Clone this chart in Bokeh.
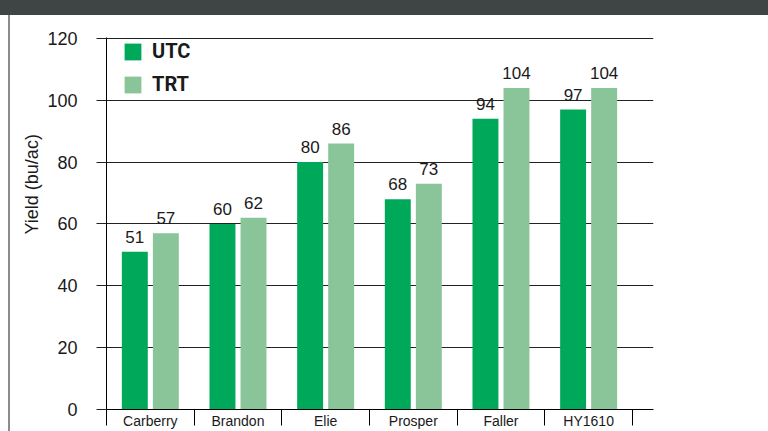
import numpy as np
from bokeh.plotting import figure
from bokeh.models import (Range1d, FixedTicker, Div, Title, Legend, LegendItem,
                          ColumnDataSource)
from bokeh.layouts import column, row
from bokeh.embed import file_html
from bokeh.resources import INLINE
from bokeh.core.properties import value

# ---- data ----
sites = ["Carberry", "Brandon", "Elie", "Prosper", "Faller", "HY1610"]
utc = [51, 60, 80, 68, 94, 97]
trt = [57, 62, 86, 73, 104, 104]
y_ticks = [0, 20, 40, 60, 80, 100, 120]
series_names = ["UTC", "TRT"]

# ---- style ----
UTC_COLOR = "#00a85a"
TRT_COLOR = "#8ac599"
TXT = "#1a1a1a"
FONT = "Liberation Sans"
BOLD = "Roboto"

centers = np.arange(len(sites)) + 0.5
off = 0.177
bw = 0.296

W, H = 758, 416
p = figure(width=W, height=H, output_backend="svg", toolbar_location=None,
           x_range=Range1d(0, 6.24), y_range=Range1d(0, 120.3),
           min_border_left=96, min_border_right=115, min_border_top=22,
           min_border_bottom=22)
p.outline_line_color = None
p.background_fill_color = "white"
p.border_fill_color = "white"
p.xgrid.visible = False

yt = FixedTicker(ticks=y_ticks, minor_ticks=[])
p.yaxis.ticker = yt
p.ygrid.ticker = yt
p.ygrid.grid_line_color = "#222222"
p.ygrid.grid_line_width = 1
p.yaxis.axis_line_color = "black"
p.yaxis.major_tick_out = 10
p.yaxis.major_tick_in = 0
p.yaxis.minor_tick_line_color = None
p.yaxis.major_tick_line_color = "#222222"
p.yaxis.major_label_standoff = 19
p.yaxis.major_label_text_font = FONT
p.yaxis.major_label_text_font_size = "18px"
p.yaxis.major_label_text_color = TXT

xt = FixedTicker(ticks=list(centers), minor_ticks=list(range(len(sites) + 1)))
p.xaxis.ticker = xt
p.xaxis.major_label_overrides = {float(c): s for c, s in zip(centers, sites)}
p.xaxis.axis_line_color = "black"
p.xaxis.major_tick_out = 0
p.xaxis.major_tick_in = 0
p.xaxis.minor_tick_out = 16
p.xaxis.minor_tick_in = 0
p.xaxis.minor_tick_line_color = "black"
p.xaxis.major_label_standoff = -13
p.xaxis.major_label_text_font = FONT
p.xaxis.major_label_text_font_size = "14px"
p.xaxis.major_label_text_color = TXT

src = ColumnDataSource(dict(
    xu=centers - off, xt=centers + off, utc=utc, trt=trt,
    lu=[str(v) for v in utc], lt=[str(v) for v in trt]))

r1 = p.vbar(x="xu", top="utc", width=bw, source=src, fill_color=UTC_COLOR,
            line_color=None)
r2 = p.vbar(x="xt", top="trt", width=bw, source=src, fill_color=TRT_COLOR,
            line_color=None)

for xc, yc, lc in (("xu", "utc", "lu"), ("xt", "trt", "lt")):
    p.text(x=xc, y=yc, text=lc, source=src, text_align="center",
           text_baseline="bottom", y_offset=-9, text_font=value(FONT),
           text_font_size="17px", text_color=TXT)

legend = Legend(items=[LegendItem(label=series_names[0], renderers=[r1]),
                       LegendItem(label=series_names[1], renderers=[r2])],
                location=(16, 372 - 8 - 51), glyph_width=21, glyph_height=21,
                spacing=9, padding=0, margin=0, label_standoff=9,
                label_text_font=BOLD, label_text_font_style="bold",
                label_text_font_size="20px", label_text_color=TXT,
                border_line_color=None, background_fill_alpha=0)
p.add_layout(legend)

ylab = Title(text="Yield (bu/ac)", align="left", offset=175, standoff=5,
             text_font=FONT, text_font_size="18px", text_font_style="normal",
             text_color=TXT)
p.add_layout(ylab, "left")

band = Div(text="", width=768, height=15, margin=0,
           styles={"background-color": "#3f4444"})
spacer = Div(text="", width=8, height=H, margin=0)
left_line = Div(text="", width=2, height=H, margin=0,
                styles={"background-color": "#8c8c8c"})

layout = column(band, row(spacer, left_line, p, spacing=0), spacing=0)

open("out.html", "w").write(file_html(layout, INLINE))
